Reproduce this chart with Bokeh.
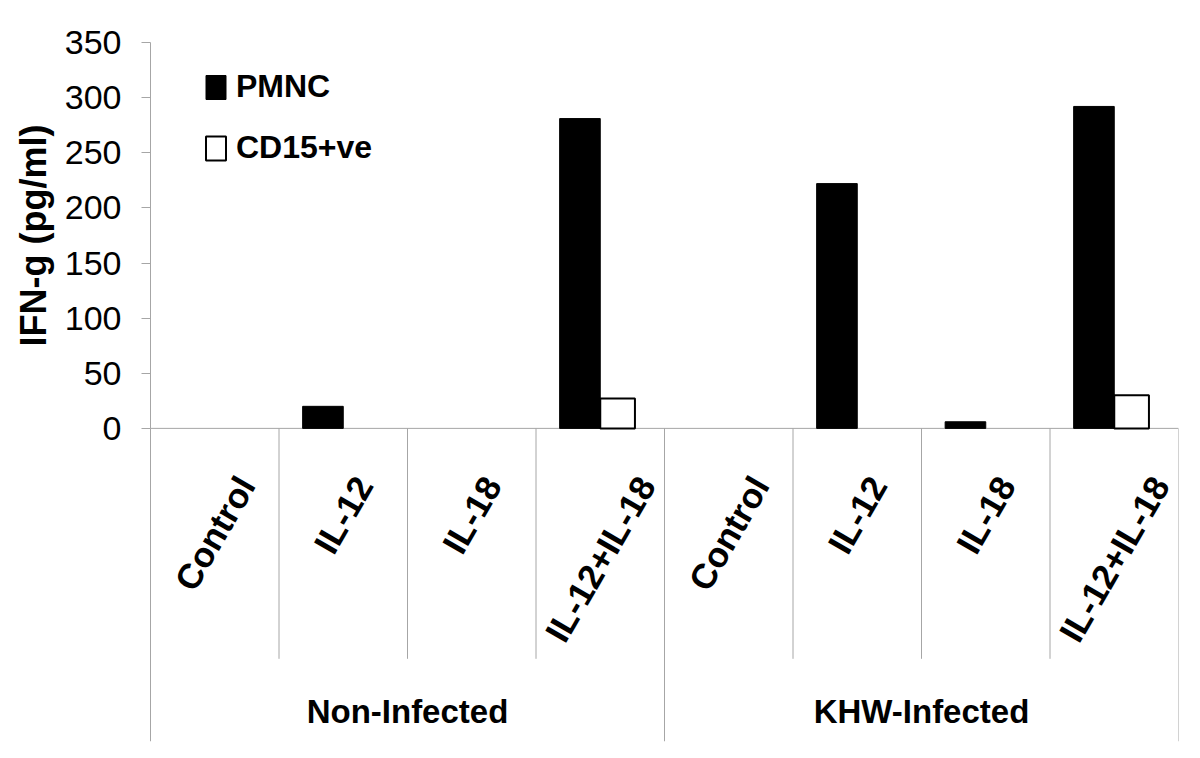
import math
from bokeh.plotting import figure
from bokeh.models import (Range1d, FixedTicker, Legend, LegendItem,
                          ColumnDataSource, LinearAxis)
from bokeh.core.properties import value
from bokeh.embed import file_html
from bokeh.resources import INLINE

# ---------------- data ----------------
groups = ["Non-Infected", "KHW-Infected"]
treatments = ["Control", "IL-12", "IL-18", "IL-12+IL-18"]
pmnc = [0, 20, 0, 281, 0, 222, 6, 292]
cd15 = [0, 0, 0, 27, 0, 0, 0, 30]
y_ticks = [0, 50, 100, 150, 200, 250, 300, 350]
y_label = "IFN-g (pg/ml)"
series_names = ["PMNC", "CD15+ve"]

# ---------------- layout constants ----------------
FONT = "Liberation Sans"
GRAY = "#a6a6a6"
N = len(groups) * len(treatments)
PX_PER_CAT = 128.5
PX_PER_UNIT = 1.1025
X_MIN = -150 / PX_PER_CAT
Y_MIN = -284.0
Y_AXIS_MAX = 350.0
TOP_PAD_PX = 22
Y_MAX = Y_AXIS_MAX + TOP_PAD_PX / PX_PER_UNIT
BLACK_W = 0.316
WHITE_W = 0.27
ANGLE_DEG = 60
FS_CAT = 35

p = figure(width=1184, height=742, output_backend="svg", toolbar_location=None,
           x_range=Range1d(X_MIN, N), y_range=Range1d(Y_MIN, Y_MAX),
           x_axis_location=None, y_axis_location=None,
           min_border_left=0, min_border_right=6, min_border_top=42 - TOP_PAD_PX,
           min_border_bottom=1)
p.outline_line_color = None
p.xgrid.visible = False
p.ygrid.visible = False
p.background_fill_color = "white"
p.border_fill_color = "white"

ax = LinearAxis(fixed_location=0, bounds=(0, Y_AXIS_MAX),
                ticker=FixedTicker(ticks=y_ticks))
ax.axis_line_color = GRAY
ax.major_tick_line_color = GRAY
ax.major_tick_out = 9
ax.major_tick_in = 0
ax.minor_tick_line_color = None
ax.major_label_standoff = 20
ax.major_label_text_font = FONT
ax.major_label_text_font_size = "34px"
ax.major_label_text_color = "black"
p.add_layout(ax, "left")

# baseline (zero line)
p.segment(x0=[0], x1=[N], y0=[0], y1=[0], line_color=GRAY, line_width=1)

# separators
cat_bounds = [i for i in range(1, N) if i % len(treatments) != 0]
grp_bounds = [i for i in range(0, N + 1) if i % len(treatments) == 0]
p.segment(x0=cat_bounds, x1=cat_bounds, y0=[0] * len(cat_bounds),
          y1=[-209] * len(cat_bounds), line_color=GRAY, line_width=1)
p.segment(x0=grp_bounds, x1=grp_bounds, y0=[0] * len(grp_bounds),
          y1=[Y_MIN] * len(grp_bounds), line_color=GRAY, line_width=1)

# bars
centers = [i + 0.5 for i in range(N)]
bsrc = ColumnDataSource(dict(
    left=[c - BLACK_W for c, v in zip(centers, pmnc) if v > 0],
    right=[c for c, v in zip(centers, pmnc) if v > 0],
    top=[v for v in pmnc if v > 0]))
wsrc = ColumnDataSource(dict(
    left=[c for c, v in zip(centers, cd15) if v > 0],
    right=[c + WHITE_W for c, v in zip(centers, cd15) if v > 0],
    top=[v for v in cd15 if v > 0]))
rb = p.quad(left="left", right="right", bottom=0, top="top", source=bsrc,
            fill_color="black", line_color="black", line_width=1)
rw = p.quad(left="left", right="right", bottom=0, top="top", source=wsrc,
            fill_color="white", line_color="black", line_width=2)

# category labels (rotated)
W = {"C": 0.722, "o": 0.611, "n": 0.611, "t": 0.333, "r": 0.389, "l": 0.278,
     "I": 0.278, "L": 0.611, "-": 0.333, "1": 0.556, "2": 0.556, "8": 0.556,
     "+": 0.584}
cat_labels = treatments * len(groups)
lens = [sum(W.get(ch, 0.556) for ch in t) * FS_CAT for t in cat_labels]
ang = math.radians(ANGLE_DEG)
p.text(x=centers, y=[-46.3] * N, text=cat_labels,
       x_offset=[L / 2 * math.cos(ang) for L in lens],
       y_offset=[0] * N,
       angle=ang, text_align="right", text_baseline="middle",
       text_font=value(FONT), text_font_style="bold",
       text_font_size=f"{FS_CAT}px", text_color="black")

# group labels
gcent = [len(treatments) * (g + 0.5) for g in range(len(groups))]
p.text(x=gcent, y=[-256.8] * len(groups), text=groups,
       text_align="center", text_baseline="middle",
       text_font=value(FONT), text_font_style="bold",
       text_font_size="33px", text_color="black")

# y axis label
p.text(x=[(33 - 150) / PX_PER_CAT], y=[Y_AXIS_MAX / 2], text=[y_label],
       angle=math.pi / 2, text_align="center", text_baseline="middle",
       text_font=value(FONT), text_font_style="bold",
       text_font_size="36px", text_color="black")

# legend
legend = Legend(items=[LegendItem(label=series_names[0], renderers=[rb]),
                       LegendItem(label=series_names[1], renderers=[rw])],
                location=(203, 575))
legend.glyph_width = 25
legend.glyph_height = 30
legend.spacing = 24
legend.padding = 0
legend.margin = 0
legend.label_standoff = 8
legend.border_line_color = None
legend.background_fill_alpha = 0
legend.label_text_font = FONT
legend.label_text_font_style = "bold"
legend.label_text_font_size = "32px"
legend.label_text_color = "black"
p.add_layout(legend)

open("out.html", "w").write(file_html(p, INLINE))
